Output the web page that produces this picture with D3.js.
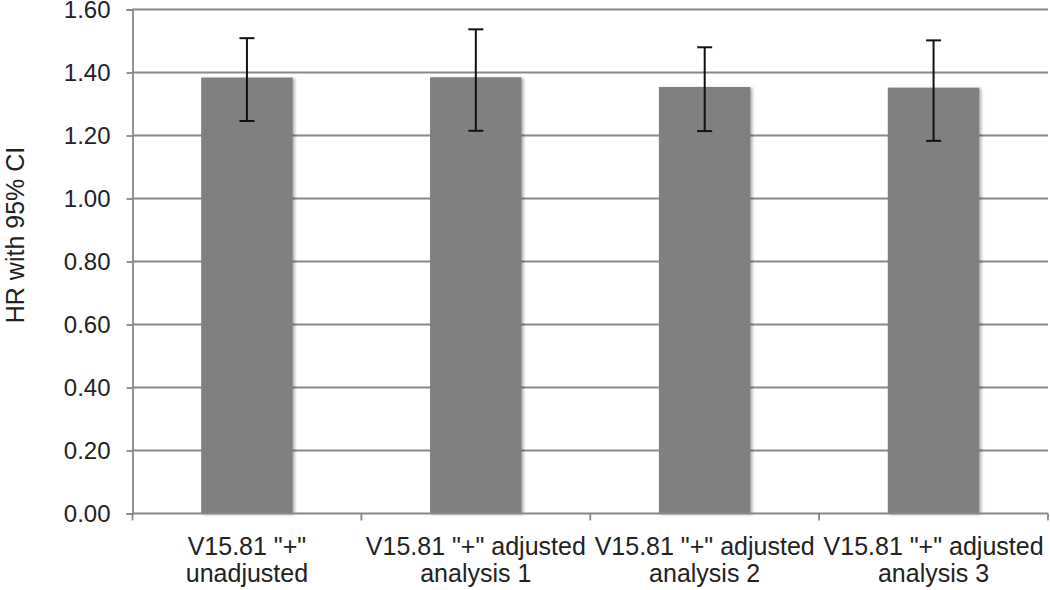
<!DOCTYPE html>
<html>
<head>
<meta charset="utf-8">
<script src="https://cdn.jsdelivr.net/npm/d3@7"></script>
<style>
  body { margin: 0; background: #fff; }
  text { font-family: "Liberation Sans", Arial, sans-serif; fill: #222; }
</style>
</head>
<body>
<div id="chart-area"></div>
<script>
// data
let categories = ["unadjusted", "analysis 1", "analysis 2", "analysis 3"];
let labelLines = [
  ['V15.81 "+"', 'unadjusted'],
  ['V15.81 "+" adjusted', 'analysis 1'],
  ['V15.81 "+" adjusted', 'analysis 2'],
  ['V15.81 "+" adjusted', 'analysis 3']
];
let hr = [1.384, 1.385, 1.354, 1.352];
let ciLow = [1.246, 1.215, 1.214, 1.183];
let ciHigh = [1.509, 1.537, 1.480, 1.502];
let yTicks = [0, 0.2, 0.4, 0.6, 0.8, 1.0, 1.2, 1.4, 1.6];

let width = 1050,
height = 590;

let plotLeft = 132.5, plotRight = 1048, plotTop = 9.5, plotBottom = 513.5;

let svg = d3.select("#chart-area").append("svg")
  .attr("width", width)
  .attr("height", height);

let defs = svg.append("defs");
let shadow = defs.append("filter").attr("id", "shadow")
  .attr("x", "-10%").attr("y", "-10%").attr("width", "130%").attr("height", "130%");
shadow.append("feDropShadow")
  .attr("dx", 2).attr("dy", 1).attr("stdDeviation", 1.5)
  .attr("flood-color", "#000").attr("flood-opacity", 0.3);

let x = d3.scaleBand()
  .domain(categories)
  .range([plotLeft, plotRight])
  .paddingInner(0.6)
  .paddingOuter(0.3);

let y = d3.scaleLinear()
  .domain([0, 1.6])
  .range([plotBottom, plotTop]);

// gridlines
svg.selectAll(".grid")
  .data(yTicks.filter(d => d > 0))
  .enter()
  .append("line")
  .attr("class", "grid")
  .attr("x1", plotLeft).attr("x2", plotRight)
  .attr("y1", d => y(d)).attr("y2", d => y(d))
  .attr("stroke", "#888")
  .attr("stroke-width", 1.8);

// bars
svg.selectAll(".bar")
  .data(categories)
  .enter()
  .append("rect")
  .attr("class", "bar")
  .attr("x", d => x(d))
  .attr("width", x.bandwidth())
  .attr("y", (d, i) => y(hr[i]))
  .attr("height", (d, i) => y(0) - y(hr[i]))
  .attr("fill", "#808080")
  .attr("filter", "url(#shadow)");

// y axis
let yAxis = d3.axisLeft(y)
  .tickValues(yTicks)
  .tickFormat(d3.format(".2f"))
  .tickSize(6)
  .tickPadding(16);

let gy = svg.append("g")
  .attr("transform", "translate(" + plotLeft + ",0)")
  .call(yAxis);
gy.select(".domain").attr("stroke", "#888").attr("stroke-width", 1.8);
gy.selectAll(".tick line").attr("stroke", "#888").attr("stroke-width", 1.8);
gy.selectAll(".tick text")
  .style("font-size", "24px")
  .style("font-family", "'Liberation Sans', Arial, sans-serif")
  .attr("fill", "#222");

// x axis line and boundary ticks
svg.append("line")
  .attr("x1", plotLeft).attr("x2", plotRight)
  .attr("y1", y(0)).attr("y2", y(0))
  .attr("stroke", "#888")
  .attr("stroke-width", 1.8);

let bounds = d3.range(categories.length + 1).map(i => plotLeft + i * x.step());
svg.selectAll(".xtick")
  .data(bounds)
  .enter()
  .append("line")
  .attr("x1", d => d).attr("x2", d => d)
  .attr("y1", y(0)).attr("y2", y(0) + 7)
  .attr("stroke", "#888")
  .attr("stroke-width", 1.8);

// category labels
let lab = svg.selectAll(".xlabel")
  .data(categories)
  .enter()
  .append("text")
  .attr("class", "xlabel")
  .attr("text-anchor", "middle")
  .style("font-size", "25px");
lab.each(function(d, i) {
  let t = d3.select(this);
  labelLines[i].forEach((line, j) => {
    t.append("tspan")
      .attr("x", x(d) + x.bandwidth() / 2)
      .attr("y", 555 + j * 27)
      .text(line);
  });
});

// error bars
let cap = 7.5;
let err = svg.selectAll(".err")
  .data(categories)
  .enter()
  .append("g")
  .attr("class", "err")
  .attr("stroke", "#111")
  .attr("stroke-width", 2);
err.append("line")
  .attr("x1", d => x(d) + x.bandwidth() / 2)
  .attr("x2", d => x(d) + x.bandwidth() / 2)
  .attr("y1", (d, i) => y(ciLow[i]))
  .attr("y2", (d, i) => y(ciHigh[i]));
err.append("line")
  .attr("x1", d => x(d) + x.bandwidth() / 2 - cap)
  .attr("x2", d => x(d) + x.bandwidth() / 2 + cap)
  .attr("y1", (d, i) => y(ciHigh[i]))
  .attr("y2", (d, i) => y(ciHigh[i]));
err.append("line")
  .attr("x1", d => x(d) + x.bandwidth() / 2 - cap)
  .attr("x2", d => x(d) + x.bandwidth() / 2 + cap)
  .attr("y1", (d, i) => y(ciLow[i]))
  .attr("y2", (d, i) => y(ciLow[i]));

// y axis title
svg.append("text")
  .attr("transform", "translate(24,235) rotate(-90)")
  .attr("text-anchor", "middle")
  .style("font-size", "25px")
  .text("HR with 95% CI");
</script>
</body>
</html>
